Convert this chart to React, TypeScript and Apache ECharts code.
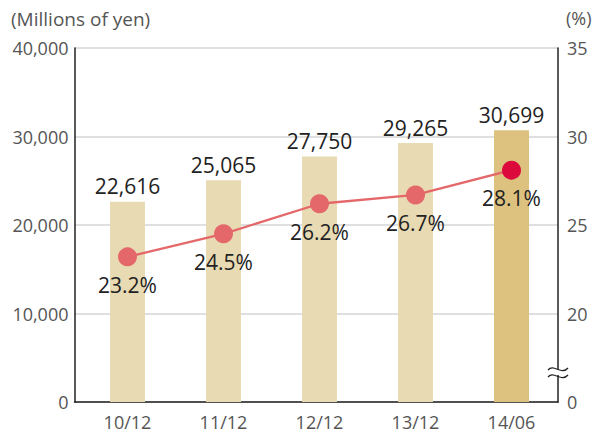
import React, { useEffect, useRef } from "react";
import * as echarts from "echarts";

const categories = ["10/12", "11/12", "12/12", "13/12", "14/06"];
const sales = [22616, 25065, 27750, 29265, 30699];
const ratio = [23.2, 24.5, 26.2, 26.7, 28.1];
const leftTicks = { min: 0, max: 40000, interval: 10000 };
const rightTicks = { min: 15, max: 35, interval: 5 };

const barColor = "#E8DAB2";
const barHighlight = "#DCC17F";
const lineColor = "#E4686A";
const pointHighlight = "#DC0A3C";
const FONT = "'Open Sans', 'Noto Sans', sans-serif";

export default function App() {
  const ref = useRef<HTMLDivElement>(null);
  useEffect(() => {
    if (!ref.current) return;
    const chart = echarts.init(ref.current, undefined, { renderer: "svg" });
    const last = categories.length - 1;
    chart.setOption({
      animation: false,
      textStyle: { fontFamily: FONT },
      grid: [
        { left: 79.5, right: 38.5, top: 48, bottom: 31 },
        { left: 74.5, right: 40, top: 48, bottom: 31 },
      ],
      xAxis: [
        {
          gridIndex: 0,
          type: "category",
          data: categories,
          axisLine: { show: false },
          axisTick: { show: false },
          axisLabel: { fontSize: 18, color: "#555", margin: 11, fontFamily: FONT },
        },
        {
          gridIndex: 1,
          type: "value",
          min: 0,
          max: 1,
          axisLine: { show: true, onZero: false, lineStyle: { color: "#222", width: 1.5 } },
          axisTick: { show: false },
          axisLabel: { show: false },
          splitLine: { show: false },
        },
      ],
      yAxis: [
        { gridIndex: 0, type: "value", min: leftTicks.min, max: leftTicks.max, show: false },
        { gridIndex: 0, type: "value", min: rightTicks.min, max: rightTicks.max, show: false },
        {
          gridIndex: 1,
          type: "value",
          position: "left",
          min: leftTicks.min,
          max: leftTicks.max,
          interval: leftTicks.interval,
          axisLine: { show: true, onZero: false, lineStyle: { color: "#222", width: 1.5 } },
          axisTick: { show: false },
          axisLabel: {
            fontSize: 18,
            color: "#555",
            margin: 6,
            fontFamily: FONT,
            formatter: (v: number) => v.toLocaleString("en-US"),
          },
          splitLine: { show: true, lineStyle: { color: "#d4d4d4", width: 1.5 } },
        },
        {
          gridIndex: 1,
          type: "value",
          position: "right",
          min: rightTicks.min,
          max: rightTicks.max,
          interval: rightTicks.interval,
          axisLine: { show: true, onZero: false, lineStyle: { color: "#222", width: 1.5 } },
          axisTick: { show: false },
          axisLabel: {
            fontSize: 18,
            color: "#555",
            margin: 9,
            fontFamily: FONT,
            formatter: (v: number) => (v === rightTicks.min ? "0" : String(v)),
          },
          splitLine: { show: false },
        },
      ],
      series: [
        {
          type: "bar",
          xAxisIndex: 0,
          yAxisIndex: 0,
          barWidth: 35,
          data: sales.map((v, i) => ({
            value: v,
            itemStyle: { color: i === last ? barHighlight : barColor },
          })),
          label: {
            show: true,
            position: "top",
            distance: 5,
            fontSize: 21,
            color: "#222",
            fontFamily: FONT,
            formatter: (p: any) => Number(p.value).toLocaleString("en-US"),
          },
          z: 2,
        },
        {
          type: "line",
          xAxisIndex: 0,
          yAxisIndex: 1,
          symbol: "circle",
          symbolSize: 19,
          lineStyle: { color: lineColor, width: 2.3 },
          itemStyle: { color: lineColor },
          data: ratio.map((v, i) => ({
            value: v,
            itemStyle: { color: i === last ? pointHighlight : lineColor },
          })),
          label: {
            show: true,
            position: "bottom",
            distance: 8,
            fontSize: 21,
            color: "#222",
            fontFamily: FONT,
            formatter: (p: any) => p.value + "%",
          },
          z: 3,
        },
      ],
      graphic: [
        {
          type: "text",
          left: 11,
          top: 9,
          style: { text: "(Millions of yen)", fontSize: 19, fill: "#555", fontFamily: FONT },
        },
        {
          type: "text",
          left: 566,
          top: 9,
          style: { text: "(%)", fontSize: 18, fill: "#555", fontFamily: FONT },
        },
        {
          type: "rect",
          shape: { x: 554, y: 369, width: 8, height: 6 },
          style: { fill: "#fff" },
          z: 10,
        },
        {
          type: "bezierCurve",
          shape: { x1: 548, y1: 370, cpx1: 554, cpy1: 363, cpx2: 561, cpy2: 376, x2: 568, y2: 368 },
          style: { stroke: "#222", lineWidth: 1.3, fill: "none" },
          z: 11,
        },
        {
          type: "bezierCurve",
          shape: { x1: 548, y1: 377, cpx1: 554, cpy1: 370, cpx2: 561, cpy2: 383, x2: 568, y2: 375 },
          style: { stroke: "#222", lineWidth: 1.3, fill: "none" },
          z: 11,
        },
      ],
    });
    return () => chart.dispose();
  }, []);
  return (
    <div
      ref={ref}
      style={{ position: "absolute", left: 0, top: 0, width: 598, height: 433, background: "#fff" }}
    />
  );
}
